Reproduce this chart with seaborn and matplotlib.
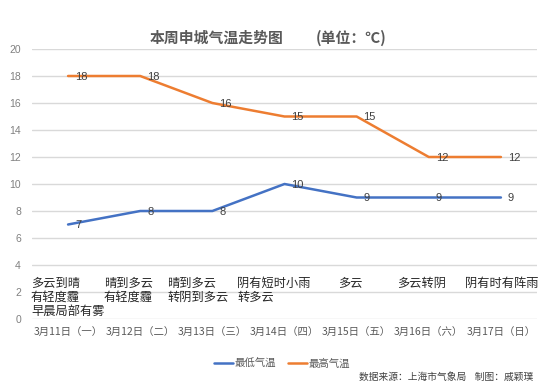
import matplotlib
matplotlib.use("Agg")
import matplotlib.pyplot as plt
import seaborn as sns
import pandas as pd
from matplotlib.lines import Line2D

dates = ["3月11日（一）", "3月12日（二）", "3月13日（三）", "3月14日（四）",
         "3月15日（五）", "3月16日（六）", "3月17日（日）"]
low_temp = [7, 8, 8, 10, 9, 9, 9]
high_temp = [18, 18, 16, 15, 15, 12, 12]
weather = ["多云到晴\n有轻度霾\n早晨局部有雾", "晴到多云\n有轻度霾", "晴到多云\n转阴到多云",
           "阴有短时小雨\n转多云", "多云", "多云转阴", "阴有时有阵雨"]
weather_x_px = [31, 104, 167, 237, 338, 397, 465]
series_names = ["最低气温", "最高气温"]
yticks = [0, 2, 4, 6, 8, 10, 12, 14, 16, 18, 20]
title_main = "本周申城气温走势图"
title_unit = "(单位：℃)"

sns.set_theme(style="white")
plt.rcParams['font.family'] = ['Noto Sans CJK SC', 'DejaVu Sans']

df = pd.DataFrame({
    "date": dates * 2,
    "temp": low_temp + high_temp,
    "series": [series_names[0]] * 7 + [series_names[1]] * 7,
})

W, H = 550, 388
fig = plt.figure(figsize=(W / 100, H / 100), dpi=100)
ax = fig.add_axes([32 / W, 1 - 319 / H, (537 - 32) / W, (319 - 49) / H])

colors = {series_names[0]: "#4472C4", series_names[1]: "#ED7D31"}
sns.lineplot(data=df, x="date", y="temp", hue="series", palette=colors,
             linewidth=1.8, ax=ax, legend=False, sort=False)

ax.set_xlim(-0.5, 6.5)
ax.set_ylim(0, 20)
ax.set_yticks(yticks)
ax.grid(axis="y", color="#D9D9D9", linewidth=1)
ax.set_axisbelow(True)
for s in ax.spines.values():
    s.set_visible(False)
ax.tick_params(axis="y", colors="#808080", labelsize=7.5, length=0, pad=8)
ax.tick_params(axis="x", colors="#595959", labelsize=7.5, length=0, pad=6)
ax.set_xlabel("")
ax.set_ylabel("")
for lab in ax.get_yticklabels():
    lab.set_family(["Liberation Sans", "DejaVu Sans"])

# data labels
for vals in (low_temp, high_temp):
    for i, v in enumerate(vals):
        ax.annotate(str(v), (i, v), xytext=(5, -0.5), textcoords="offset points",
                    ha="left", va="center", fontsize=8, color="#404040",
                    family=["Liberation Sans", "DejaVu Sans"])

# weather texts
for t, xp in zip(weather, weather_x_px):
    fig.text(xp / W, 1 - 276.5 / H, t, ha="left", va="top", fontsize=8.8,
             color="#262626", fontweight="medium", linespacing=1.12)

# title
fig.text(150 / W, 1 - 38 / H, title_main, ha="left",
         va="center", fontsize=10.7, fontweight="bold", color="#595959")
fig.text(316 / W, 1 - 38 / H, title_unit, ha="left",
         va="center", fontsize=10.7, fontweight="bold", color="#595959")

# legend
handles = [Line2D([0], [0], color=colors[n], lw=1.8) for n in series_names]
fig.legend(handles, series_names, loc="center", bbox_to_anchor=(282 / W, 1 - 364 / H),
           ncol=2, frameon=False, fontsize=7.5, handlelength=1.8, handletextpad=0.1,
           columnspacing=1.2, labelcolor="#595959")

fig.text(533 / W, 1 - 377 / H, "数据来源：上海市气象局    制图：戚颖璞", ha="right",
         va="center", fontsize=7, color="#404040")

fig.savefig("out.png", dpi=100)
